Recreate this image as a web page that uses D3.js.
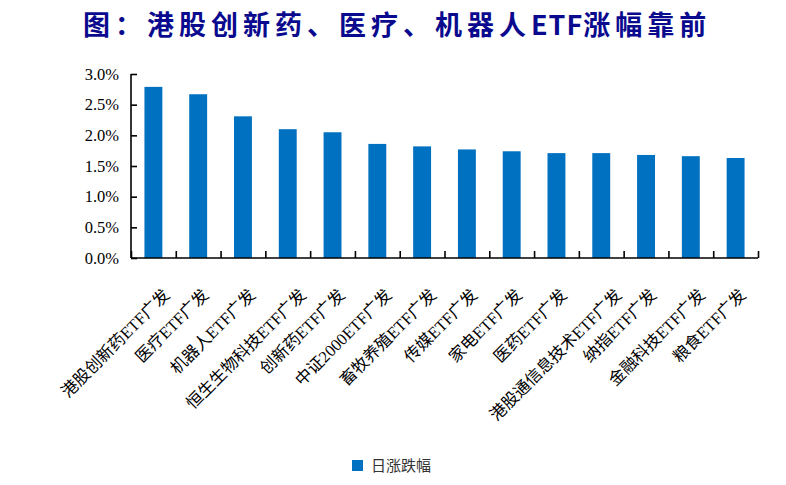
<!DOCTYPE html>
<html>
<head>
<meta charset="utf-8">
<script src="https://cdn.jsdelivr.net/npm/d3@7"></script>
<style>
  body { margin: 0; background: #fff; }
  svg { display: block; }
</style>
</head>
<body>
<div id="chart"></div>
<script>
/**
 * DATA
 * */
const categories = [
  "港股创新药ETF广发", "医疗ETF广发", "机器人ETF广发", "恒生生物科技ETF广发",
  "创新药ETF广发", "中证2000ETF广发", "畜牧养殖ETF广发", "传媒ETF广发",
  "家电ETF广发", "医药ETF广发", "港股通信息技术ETF广发", "纳指ETF广发",
  "金融科技ETF广发", "粮食ETF广发"
];
const dailyChange = [2.79, 2.67, 2.31, 2.10, 2.05, 1.86, 1.82, 1.77, 1.74, 1.71, 1.71, 1.68, 1.66, 1.63];
const yTicks = [0, 0.5, 1.0, 1.5, 2.0, 2.5, 3.0];
const seriesName = "日涨跌幅";
const titleParts = ["图：港股创新药、医疗、机器人", "ETF", "涨幅靠前"];

/**
 * CONSTANTS
 * */
const width = 786,
  height = 485,
  margin = { top: 74, left: 131, right: 28, bottom: 227 };
const barColor = "#0070C0";
const serif = "'Liberation Serif', 'Times New Roman', 'Noto Sans CJK SC', serif";

const svg = d3.select("#chart")
  .append("svg")
  .attr("width", width)
  .attr("height", height);

// title
const title = svg.append("text")
  .attr("x", 83)
  .attr("y", 35)
  .style("font-family", "'Noto Sans CJK SC', sans-serif")
  .style("font-weight", "bold")
  .style("font-size", "27px")
  .attr("fill", "#0a0a8e");

title.selectAll("tspan")
  .data(titleParts)
  .join("tspan")
  .style("letter-spacing", (d, i) => i === 1 ? "1px" : "5px")
  .text(d => d);

// scales
const x = d3.scaleBand()
  .domain(categories)
  .range([margin.left, width - margin.right])
  .paddingInner(0.6)
  .paddingOuter(0.3);

const xEdge = d3.scaleLinear()
  .domain([0, categories.length])
  .range([margin.left, width - margin.right]);

const y = d3.scaleLinear()
  .domain([0, 3])
  .range([height - margin.bottom, margin.top]);

// bars
svg.append("g")
  .selectAll("rect")
  .data(dailyChange)
  .join("rect")
  .attr("x", (d, i) => x(categories[i]))
  .attr("width", x.bandwidth())
  .attr("y", d => y(d))
  .attr("height", d => y(0) - y(d))
  .attr("fill", barColor);

// y axis
const yAxis = svg.append("g")
  .attr("transform", `translate(${margin.left},0)`)
  .call(d3.axisLeft(y)
    .tickValues(yTicks)
    .tickSize(-6)
    .tickPadding(12)
    .tickFormat(d => d3.format(".1f")(d) + "%"));

// x axis, ticks on category boundaries
const xAxis = svg.append("g")
  .attr("transform", `translate(0,${y(0)})`)
  .call(d3.axisBottom(xEdge)
    .tickValues(d3.range(categories.length + 1))
    .tickSize(-7)
    .tickFormat(""));

[yAxis, xAxis].forEach(g => {
  g.select(".domain").attr("stroke", "#000").attr("stroke-width", 1.6);
  g.selectAll(".tick line").attr("stroke", "#000").attr("stroke-width", 1.6);
});
xAxis.select(".domain").attr("d", `M${margin.left},0H${width - margin.right}`);
yAxis.select(".domain").attr("d", `M0,${margin.top}V${y(0)}`);

yAxis.selectAll(".tick text")
  .attr("fill", "#000")
  .style("font-family", serif)
  .style("font-size", "16.5px");

// rotated category labels
const labels = svg.append("g")
  .selectAll("text")
  .data(categories)
  .join("text")
  .attr("text-anchor", "end")
  .style("font-family", serif)
  .style("font-size", "16.5px")
  .attr("fill", "#000")
  .text(d => d);

labels.attr("transform", function (d) {
  const len = this.getComputedTextLength();
  const cx = x(d) + x.bandwidth() / 2 + len * 0.12;
  return `translate(${cx},${y(0) + 38}) rotate(-45)`;
});

// legend
const legend = svg.append("g")
  .attr("transform", "translate(352,460)");

legend.append("rect")
  .attr("width", 11)
  .attr("height", 11)
  .attr("fill", barColor);

legend.append("text")
  .attr("x", 19)
  .attr("y", 11)
  .style("font-family", "'Noto Sans CJK SC', sans-serif")
  .style("font-size", "15px")
  .attr("fill", "#333")
  .text(seriesName);
</script>
</body>
</html>
